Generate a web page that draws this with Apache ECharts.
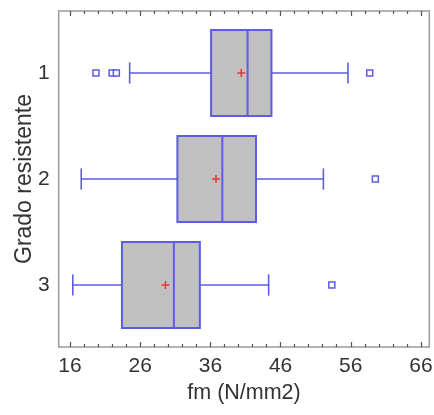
<!DOCTYPE html>
<html>
<head>
<meta charset="utf-8">
<script src="https://cdn.jsdelivr.net/npm/echarts@6/dist/echarts.min.js"></script>
<style>
html,body{margin:0;padding:0;background:#fff;}
#chart{width:434px;height:415px;}
</style>
</head>
<body>
<div id="chart"></div>
<script>
// Data
const grades = [1, 2, 3];
const lowWhisker = [24.5, 17.6, 16.4];
const q1 = [36.1, 31.3, 23.4];
const median = [41.3, 37.7, 30.8];
const q3 = [44.7, 42.5, 34.5];
const highWhisker = [55.6, 52.1, 44.3];
const means = [40.4, 36.8, 29.6];
const outlierValues = [19.7, 22.0, 22.6, 58.7, 59.5, 53.3];
const outlierGrades = [1, 1, 1, 1, 2, 3];
const majorTicks = [16, 26, 36, 46, 56, 66];
const minorTicks = [18, 20, 22, 24, 28, 30, 32, 34, 38, 40, 42, 44, 48, 50, 52, 54, 58, 60, 62, 64];

const BLUE = '#5c5ce6';
const TEXT = '#333333';
const FRAME = '#9a9a9a';
const FONT = 'Liberation Sans, Arial, sans-serif';

const boxRows = grades.map((g, i) => [g, lowWhisker[i], q1[i], median[i], q3[i], highWhisker[i], means[i]]);
const outlierRows = outlierValues.map((v, i) => [v, outlierGrades[i]]);

const chart = echarts.init(document.getElementById('chart'));

function tickAxis(pos, values, len, extra) {
  return Object.assign({
    type: 'value', position: pos, min: 14.39, max: 67.19, gridIndex: 0,
    axisLine: { show: false },
    splitLine: { show: false },
    axisTick: { show: true, inside: true, length: len, customValues: values, lineStyle: { color: '#555', width: 1.2 } },
    axisLabel: { show: false }
  }, extra || {});
}

function renderBox(params, api) {
  const y = api.value(0);
  const lo = api.value(1), a = api.value(2), m = api.value(3), b = api.value(4), hi = api.value(5), mu = api.value(6);
  const half = 0.405, cap = 0.1;
  const pTop = api.coord([a, y - half]);
  const pBot = api.coord([b, y + half]);
  const pc = (x) => api.coord([x, y]);
  const capTop = api.coord([lo, y - cap])[1];
  const capBot = api.coord([lo, y + cap])[1];
  const lineStyle = { stroke: BLUE, lineWidth: 1.6 };
  const children = [
    { type: 'line', shape: { x1: pc(lo)[0], y1: pc(lo)[1], x2: pc(a)[0], y2: pc(a)[1] }, style: lineStyle },
    { type: 'line', shape: { x1: pc(b)[0], y1: pc(b)[1], x2: pc(hi)[0], y2: pc(hi)[1] }, style: lineStyle },
    { type: 'line', shape: { x1: pc(lo)[0], y1: capTop, x2: pc(lo)[0], y2: capBot }, style: lineStyle },
    { type: 'line', shape: { x1: pc(hi)[0], y1: capTop, x2: pc(hi)[0], y2: capBot }, style: lineStyle },
    { type: 'rect', shape: { x: pTop[0], y: pTop[1], width: pBot[0] - pTop[0], height: pBot[1] - pTop[1] },
      style: { fill: '#c0c0c0', stroke: BLUE, lineWidth: 2 } },
    { type: 'line', shape: { x1: pc(m)[0], y1: pTop[1], x2: pc(m)[0], y2: pBot[1] }, style: { stroke: BLUE, lineWidth: 2 } },
    { type: 'line', shape: { x1: pc(mu)[0] - 4, y1: pc(mu)[1], x2: pc(mu)[0] + 4, y2: pc(mu)[1] }, style: { stroke: '#ee3333', lineWidth: 1.5 } },
    { type: 'line', shape: { x1: pc(mu)[0], y1: pc(mu)[1] - 4, x2: pc(mu)[0], y2: pc(mu)[1] + 4 }, style: { stroke: '#ee3333', lineWidth: 1.5 } }
  ];
  return { type: 'group', children: children };
}

chart.setOption({
  animation: false,
  backgroundColor: '#ffffff',
  grid: { left: 58.7, right: 4.7, top: 11, bottom: 68, outerBoundsMode: 'none', containLabel: false,
          show: true, borderColor: FRAME, borderWidth: 1.5, backgroundColor: '#ffffff' },
  xAxis: [
    tickAxis('bottom', majorTicks, 5, {
      name: 'fm (N/mm2)', nameLocation: 'middle', nameGap: 35, nameMoveOverlap: false,
      nameTextStyle: { fontSize: 21.5, color: TEXT, fontFamily: FONT },
      axisLabel: { show: true, customValues: majorTicks, margin: 9, fontSize: 21, color: TEXT, fontFamily: FONT }
    }),
    tickAxis('bottom', minorTicks, 3),
    tickAxis('top', majorTicks, 5),
    tickAxis('top', minorTicks, 3)
  ],
  yAxis: {
    type: 'value', inverse: true, min: 0.415, max: 3.585,
    name: 'Grado resistente', nameLocation: 'middle', nameGap: 23, nameMoveOverlap: false,
    nameTextStyle: { fontSize: 23, color: TEXT, fontFamily: FONT },
    axisLine: { show: false }, axisTick: { show: false }, splitLine: { show: false },
    axisLabel: { customValues: grades, margin: 9, fontSize: 21, color: TEXT, fontFamily: FONT }
  },
  series: [
    {
      type: 'custom', xAxisIndex: 0, yAxisIndex: 0,
      data: boxRows,
      encode: { y: 0, x: [1, 2, 3, 4, 5, 6] },
      renderItem: renderBox
    },
    {
      type: 'scatter', xAxisIndex: 0, yAxisIndex: 0,
      data: outlierRows,
      symbol: 'rect', symbolSize: 6,
      itemStyle: { color: '#ffffff', borderColor: BLUE, borderWidth: 1.5, opacity: 1 }
    }
  ]
});
</script>
</body>
</html>
